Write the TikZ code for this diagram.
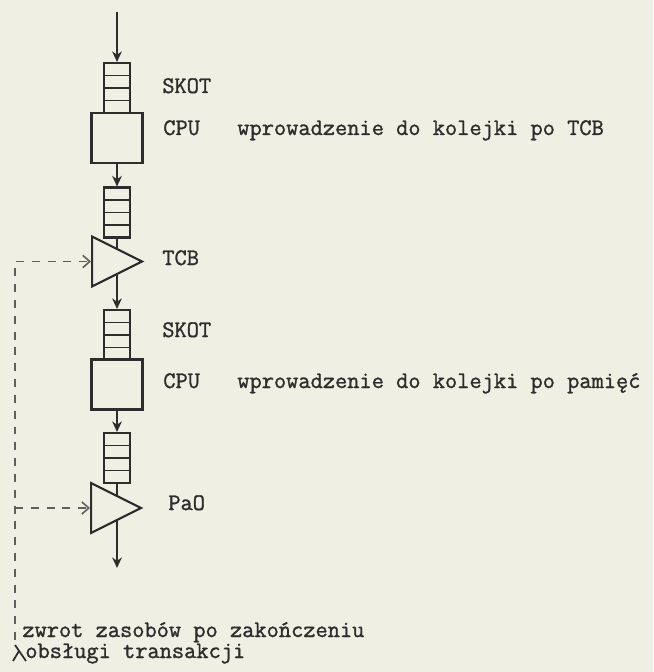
\documentclass[tikz,border=0pt]{standalone}
\usepackage{fontspec}
\newfontfamily\maszyna{Latin Modern Mono}[FakeBold=1.2]
\usetikzlibrary{arrows.meta,shapes.geometric,calc,backgrounds}
\definecolor{papier}{RGB}{239,239,228}
\definecolor{tusz}{RGB}{45,45,45}
\definecolor{olowek}{RGB}{95,95,95}
\tikzset{
  kolejka/.style={draw=tusz, line width=1.2pt, minimum width=0.52cm, minimum height=1cm, inner sep=0pt,
    path picture={\foreach \k in {1,2,3}
      \draw[tusz, line width=0.9pt]
        ($(path picture bounding box.north west)!\k/4!(path picture bounding box.south west)$) --
        ($(path picture bounding box.north east)!\k/4!(path picture bounding box.south east)$);}},
  procesor/.style={draw=tusz, line width=1.2pt, minimum width=1.02cm, minimum height=1cm, inner sep=0pt},
  zasob/.style={draw=tusz, line width=1.2pt, fill=papier, isosceles triangle, isosceles triangle stretches,
    minimum width=1cm, minimum height=1cm, inner sep=0pt, anchor=lower side},
  przeplyw/.style={draw=tusz, line width=1.2pt, -{Stealth[length=6pt,width=5.5pt]}},
  zwrot/.style={draw=olowek, line width=0.9pt, dash pattern=on 4.5pt off 4.5pt,
    -{Straight Barb[length=4pt,width=7pt]}},
  opis/.style={anchor=base west, inner sep=0pt, text=tusz, font=\fontsize{13.5}{16}\selectfont\maszyna}
}
\begin{document}
\begin{tikzpicture}[x=0.02cm, y=-0.02cm]
  \useasboundingbox (0,0) rectangle (653,672);
  % kolejki, procesory, zasoby
  \node[kolejka] (kol1) at (117,88) {};
  \node[procesor] (cpu1) at (117,138) {};
  \node[kolejka] (kol2) at (117,212.5) {};
  \node[zasob] (tcb) at (91,261.5) {};
  \node[kolejka] (kol3) at (117,335) {};
  \node[procesor] (cpu2) at (117,384.5) {};
  \node[kolejka] (kol4) at (117,458) {};
  \node[zasob] (pao) at (90,508) {};
  \coordinate (wejscie) at (117,12);
  \coordinate (wyjscie) at (117,568);
  \coordinate (powrot) at (15,640);
  % opisy
  \node[opis] (skot1) at (162,93) {SKOT};
  \node[opis] (opcpu1) at (163,135) {CPU};
  \node[opis] (uwaga1) at (237,135) {wprowadzenie do kolejki po TCB};
  \node[opis] (optcb) at (162,265) {TCB};
  \node[opis] (skot2) at (162,337) {SKOT};
  \node[opis] (opcpu2) at (163,388) {CPU};
  \node[opis] (uwaga2) at (237,388) {wprowadzenie do kolejki po pamięć};
  \node[opis] (oppao) at (168,510) {PaO};
  \node[opis] (zwrot1) at (22,637) {zwrot zasobów po zakończeniu};
  \node[opis] (zwrot2) at (25,658) {obsługi transakcji};
  % przeplyw transakcji
  \draw[przeplyw] (wejscie) -- (kol1.north);
  \draw[przeplyw] (cpu1.south) -- (kol2.north);
  \draw[przeplyw] (cpu2.south) -- (kol4.north);
  \begin{scope}[on background layer]
    \fill[papier] (0,0) rectangle (653,672);
    \draw[przeplyw] (kol2.south) -- (kol3.north);
    \draw[przeplyw] (kol4.south) -- (wyjscie);
  \end{scope}
  % zwrot zasobow
  \draw[zwrot] (powrot) |- (tcb.lower side);
  \draw[zwrot] (powrot |- pao.lower side) -- (pao.lower side);
  \draw[tusz, line width=1pt] (powrot) ++(0,5) -- ++(11,16) (powrot) ++(4,11) -- ++(-6,10);
\end{tikzpicture}
\end{document}
